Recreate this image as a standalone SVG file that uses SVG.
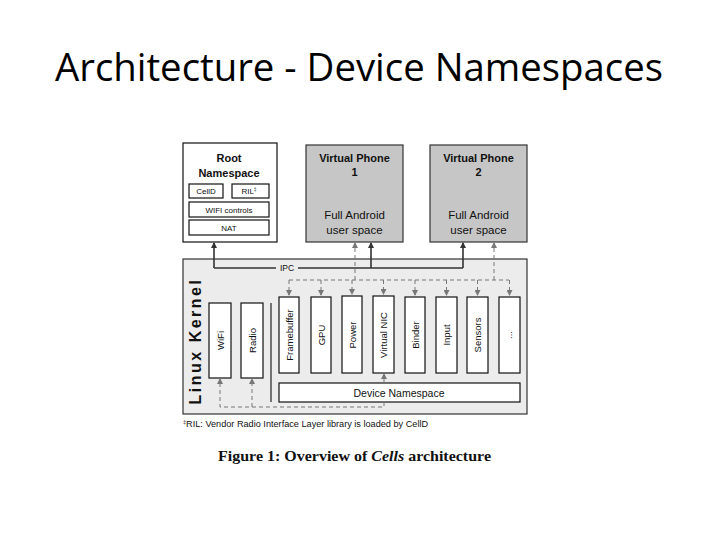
<svg xmlns="http://www.w3.org/2000/svg" width="720" height="540" viewBox="0 0 720 540">
<style>
.t{font-family:"Liberation Sans",Arial,sans-serif;fill:#111}
.box{fill:#fff;stroke:#111;stroke-width:1.2}
.vp{fill:#c6c6c6;stroke:#333;stroke-width:1.2}
.ipc{fill:none;stroke:#333;stroke-width:1.6}
.dash{fill:none;stroke:#777;stroke-width:1;stroke-dasharray:4 3}
.dl{font-size:9.5px;text-anchor:middle}
</style>
<defs>
<marker id="ab" markerWidth="6" markerHeight="6" refX="5" refY="3" orient="auto" markerUnits="userSpaceOnUse"><path d="M0,0 L6,3 L0,6 z" fill="#333"/></marker>
<marker id="ag" markerWidth="6" markerHeight="6" refX="5" refY="3" orient="auto" markerUnits="userSpaceOnUse"><path d="M0,0 L6,3 L0,6 z" fill="#777"/></marker>
</defs>
<rect width="720" height="540" fill="#fff"/>
<text x="359" y="81" text-anchor="middle" font-family="'Open Sans','Liberation Sans',sans-serif" font-size="38" fill="#000" textLength="608" lengthAdjust="spacingAndGlyphs">Architecture - Device Namespaces</text>

<g id="root-namespace">
<rect class="box" x="183" y="143" width="94" height="99"/>
<text class="t" x="229" y="162" font-size="11" font-weight="bold" text-anchor="middle" fill="#222">Root</text>
<text class="t" x="229" y="177" font-size="11" font-weight="bold" text-anchor="middle" fill="#222">Namespace</text>
<rect class="box" x="189" y="184" width="34" height="14"/>
<text class="t" x="206" y="194" font-size="8" text-anchor="middle">CellD</text>
<rect class="box" x="232" y="184" width="37" height="14"/>
<text class="t" x="249" y="194" font-size="8" text-anchor="middle">RIL<tspan font-size="5" dy="-3">‡</tspan></text>
<rect class="box" x="189" y="202" width="80" height="15"/>
<text class="t" x="229" y="212.5" font-size="8" text-anchor="middle">WIFI controls</text>
<rect class="box" x="189" y="220" width="80" height="15"/>
<text class="t" x="229" y="230.5" font-size="8" text-anchor="middle">NAT</text>
</g>

<g id="virtual-phone-1">
<rect class="vp" x="306" y="145" width="97" height="97"/>
<text class="t" x="354.5" y="162" font-size="11" font-weight="bold" text-anchor="middle" fill="#222">Virtual Phone</text>
<text class="t" x="354.5" y="176" font-size="11" font-weight="bold" text-anchor="middle">1</text>
<text class="t" x="354.5" y="219" font-size="11.5" text-anchor="middle">Full Android</text>
<text class="t" x="354.5" y="234" font-size="11.5" text-anchor="middle">user space</text>
</g>

<g id="virtual-phone-2">
<rect class="vp" x="430" y="145" width="97" height="97"/>
<text class="t" x="478.5" y="162" font-size="11" font-weight="bold" text-anchor="middle" fill="#222">Virtual Phone</text>
<text class="t" x="478.5" y="176" font-size="11" font-weight="bold" text-anchor="middle">2</text>
<text class="t" x="478.5" y="219" font-size="11.5" text-anchor="middle">Full Android</text>
<text class="t" x="478.5" y="234" font-size="11.5" text-anchor="middle">user space</text>
</g>

<g id="linux-kernel">
<rect x="183" y="259" width="344" height="155" fill="#ececec" stroke="#333" stroke-width="1.2"/>
<text class="t" transform="translate(201,341) rotate(-90)" font-size="16" font-weight="bold" text-anchor="middle" letter-spacing="2.5">Linux Kernel</text>
<line x1="271" y1="303" x2="271" y2="402" stroke="#222" stroke-width="1.2"/>
</g>

<g id="wifi"><rect class="box" x="209" y="303" width="22" height="75"/><text class="t dl" transform="translate(223.5,340.5) rotate(-90)">WiFi</text></g>
<g id="radio"><rect class="box" x="241" y="303" width="22" height="75"/><text class="t dl" transform="translate(255.5,340.5) rotate(-90)">Radio</text></g>

<g id="framebuffer"><rect class="box" x="279" y="297" width="20" height="76"/><text class="t dl" transform="translate(292.5,335) rotate(-90)">Framebuffer</text></g>
<g id="gpu"><rect class="box" x="311" y="297" width="20" height="76" stroke-width="1.8"/><text class="t dl" transform="translate(324.5,335) rotate(-90)">GPU</text></g>
<g id="power"><rect class="box" x="342" y="296" width="20" height="77"/><text class="t dl" transform="translate(355.5,335) rotate(-90)">Power</text></g>
<g id="virtual-nic"><rect class="box" x="373" y="296" width="21" height="77"/><text class="t dl" transform="translate(387,335) rotate(-90)">Virtual NIC</text></g>
<g id="binder"><rect class="box" x="405" y="297" width="20" height="76"/><text class="t dl" transform="translate(418.5,335) rotate(-90)">Binder</text></g>
<g id="input"><rect class="box" x="436" y="297" width="21" height="76"/><text class="t dl" transform="translate(450,335) rotate(-90)">Input</text></g>
<g id="sensors"><rect class="box" x="467" y="297" width="21" height="76"/><text class="t dl" transform="translate(481,335) rotate(-90)">Sensors</text></g>
<g id="more"><rect class="box" x="499" y="297" width="21" height="76"/><text class="t dl" transform="translate(512,335) rotate(-90)">...</text></g>

<g id="device-namespace"><rect class="box" x="279" y="383" width="241" height="19"/><text class="t" x="399" y="396.5" font-size="10.5" text-anchor="middle">Device Namespace</text></g>

<g id="connectors">
<path class="ipc" d="M214,268 H276 M298,268 H463"/>
<text class="t" x="287" y="271" font-size="8.5" text-anchor="middle">IPC</text>
<line class="ipc" x1="214" y1="268" x2="214" y2="243" marker-end="url(#ab)"/>
<line class="ipc" x1="371" y1="268" x2="371" y2="243" marker-end="url(#ab)"/>
<line class="ipc" x1="463" y1="268" x2="463" y2="243" marker-end="url(#ab)"/>
<line class="dash" x1="355" y1="280" x2="355" y2="243" marker-end="url(#ag)"/>
<line class="dash" x1="494" y1="280" x2="494" y2="243" marker-end="url(#ag)"/>
<path class="dash" d="M289,280 H509"/>
<line class="dash" x1="289" y1="280" x2="289" y2="295" marker-end="url(#ag)"/>
<line class="dash" x1="321" y1="280" x2="321" y2="295" marker-end="url(#ag)"/>
<line class="dash" x1="352" y1="280" x2="352" y2="294" marker-end="url(#ag)"/>
<line class="dash" x1="383.5" y1="280" x2="383.5" y2="294" marker-end="url(#ag)"/>
<line class="dash" x1="415" y1="280" x2="415" y2="295" marker-end="url(#ag)"/>
<line class="dash" x1="446.5" y1="280" x2="446.5" y2="295" marker-end="url(#ag)"/>
<line class="dash" x1="477.5" y1="280" x2="477.5" y2="295" marker-end="url(#ag)"/>
<line class="dash" x1="509.5" y1="280" x2="509.5" y2="295" marker-end="url(#ag)"/>
<line x1="384" y1="383" x2="384" y2="374" stroke="#777" stroke-width="1" marker-end="url(#ag)"/>
<path class="dash" d="M384,402 V407 H220 V379" marker-end="url(#ag)"/>
<path class="dash" d="M252,407 V379" marker-end="url(#ag)"/>
</g>

<text class="t" x="183" y="427" font-size="8.5"><tspan font-size="5.5" dy="-3">‡</tspan><tspan dy="3" textLength="242" lengthAdjust="spacingAndGlyphs">RIL: Vendor Radio Interface Layer library is loaded by CellD</tspan></text>
<text x="354.5" y="461" text-anchor="middle" font-family="'Liberation Serif','DejaVu Serif',serif" font-size="14" font-weight="bold" fill="#111" textLength="273" lengthAdjust="spacingAndGlyphs">Figure 1: Overview of <tspan font-style="italic">Cells</tspan> architecture</text>
</svg>
